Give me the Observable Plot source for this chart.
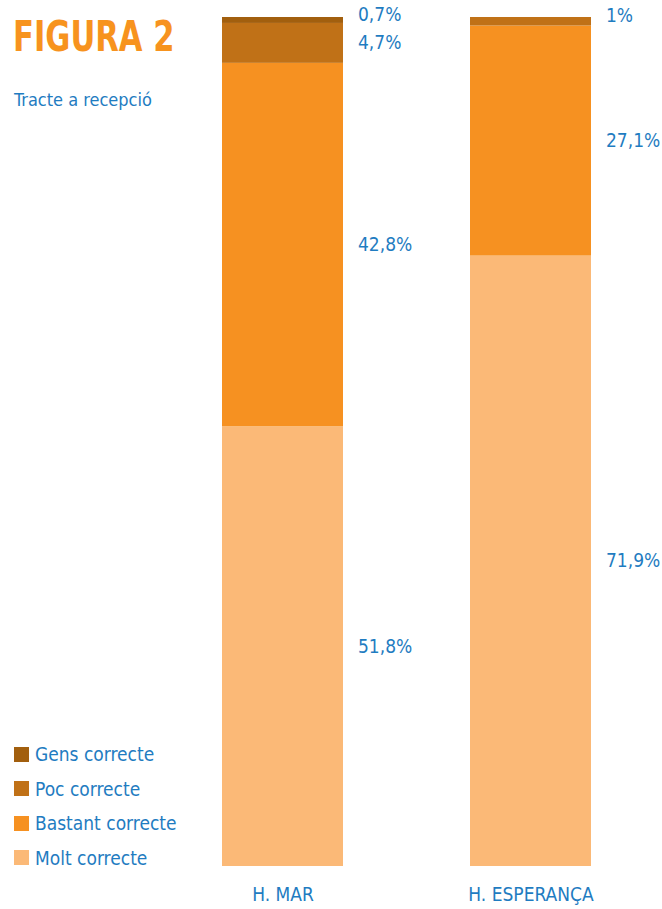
<!DOCTYPE html>
<html>
<head>
<meta charset="utf-8">
<script src="https://cdn.jsdelivr.net/npm/d3@7"></script>
<script src="https://cdn.jsdelivr.net/npm/@observablehq/plot@0.6"></script>
<style>
  html, body { margin: 0; padding: 0; background: #fff; }
  #wrap { position: relative; width: 662px; height: 909px; font-family: "Liberation Sans Narrow", "DejaVu Sans Condensed", sans-serif; }
  #title { position: absolute; left: 13px; top: 16px; font-size: 42px; font-weight: bold; color: #f7931e; line-height: 1; transform: scaleX(0.81); transform-origin: left top; white-space: nowrap; }
  #subtitle { position: absolute; left: 14px; top: 91px; font-size: 18px; color: #1f7cc1; line-height: 1; }
  #legend { position: absolute; left: 14px; top: 737px; }
  .item { display: flex; align-items: center; height: 34.5px; font-size: 19px; color: #1f7cc1; }
  .sw { width: 15px; height: 15px; margin-right: 6px; }
  #chart { position: absolute; left: 0; top: 0; }
</style>
</head>
<body>
<div id="wrap">
  <div id="chart"></div>
  <div id="title">FIGURA 2</div>
  <div id="subtitle">Tracte a recepció</div>
  <div id="legend"></div>
</div>
<script>
const categories = ["H. MAR", "H. ESPERANÇA"];
const series = ["Molt correcte", "Bastant correcte", "Poc correcte", "Gens correcte"];
const legendOrder = ["Gens correcte", "Poc correcte", "Bastant correcte", "Molt correcte"];
const colors = ["#fbb977", "#f69121", "#c07117", "#a25f0e"];
const valuesMar = [51.8, 42.8, 4.7, 0.7];
const valuesEsperanca = [71.9, 27.1, 1, 0];
const labelsMar = ["51,8%", "42,8%", "4,7%", "0,7%"];
const labelsEsperanca = ["71,9%", "27,1%", "1%", ""];

const data = [];
series.forEach((s, i) => {
  data.push({cat: categories[0], series: s, value: valuesMar[i], label: labelsMar[i]});
  data.push({cat: categories[1], series: s, value: valuesEsperanca[i], label: labelsEsperanca[i]});
});

const blue = "#1f7cc1";
const bigText = d => d.value >= 3 ? d.label : null;
const smallText = d => d.value > 0 && d.value < 3 ? d.label : null;

const chart = Plot.plot({
  width: 662,
  height: 909,
  marginLeft: 222,
  marginRight: 70.5,
  marginTop: 17,
  marginBottom: 43,
  style: {fontFamily: '"Liberation Sans Narrow", "DejaVu Sans Condensed", sans-serif', background: "transparent"},
  x: {domain: categories, paddingInner: 0.513, paddingOuter: 0, label: null},
  y: {domain: [0, 100], axis: null},
  color: {domain: series, range: colors},
  marks: [
    Plot.barY(data, {x: "cat", y: "value", fill: "series", order: series}),
    Plot.text(data, Plot.stackY({x: "cat", y: "value", z: "series", order: series, text: bigText,
      dx: 75, textAnchor: "start", fill: blue, fontSize: 19})),
    Plot.text(data, Plot.stackY({x: "cat", y: "value", z: "series", order: series, text: smallText,
      dx: 75, dy: -6, textAnchor: "start", fill: blue, fontSize: 19})),
    Plot.axisX({tickSize: 0, tickPadding: 21, fontSize: 19, color: blue, label: null})
  ]
});
document.getElementById("chart").appendChild(chart);

const legend = document.getElementById("legend");
legendOrder.forEach(s => {
  const row = document.createElement("div");
  row.className = "item";
  const sw = document.createElement("div");
  sw.className = "sw";
  sw.style.background = colors[series.indexOf(s)];
  row.appendChild(sw);
  row.appendChild(document.createTextNode(s));
  legend.appendChild(row);
});
</script>
</body>
</html>
